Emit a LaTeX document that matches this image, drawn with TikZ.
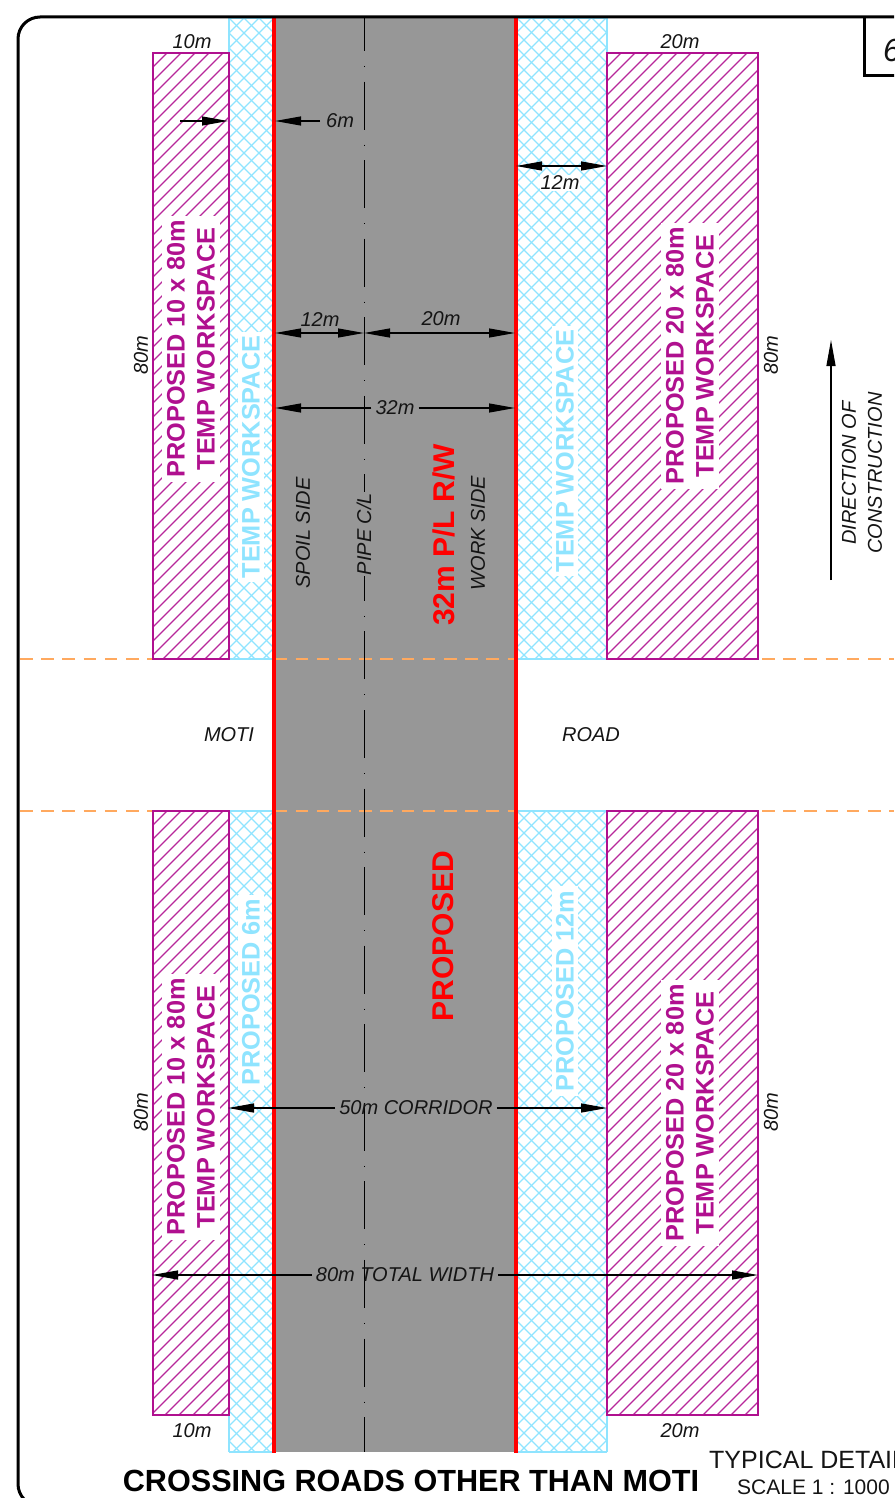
\documentclass[tikz,border=0pt]{standalone}
\usepackage{fontspec}
\setmainfont{Liberation Sans}
\usetikzlibrary{arrows.meta}
\definecolor{pur}{HTML}{B0108F}
\definecolor{cya}{HTML}{8FE4FF}
\definecolor{gry}{HTML}{979797}
\definecolor{org}{HTML}{FFA95F}
\tikzset{
  x=1pt,y=-1pt,
  purbox/.style={draw=pur,line width=2.4pt},
  purhatch/.style={pur!90,line width=1.25pt},
  cyahatch/.style={cya,line width=1.25pt},
  dim/.style={line width=1.2pt,draw=black},
  headend/.style={-{Triangle[length=26pt,width=9pt]}},
  headboth/.style={{Triangle[length=26pt,width=9pt]}-{Triangle[length=26pt,width=9pt]}},
  roadedge/.style={org,line width=1.6pt,dash pattern=on 12.5pt off 8.7pt},
  lab/.style={font=\fontsize{20}{22}\selectfont\itshape,inner sep=1pt,text=black!92},
  rlab/.style={lab,rotate=90},
  wlab/.style={lab,fill=white},
  planlab/.style={font=\fontsize{25.3}{30}\selectfont\bfseries,text=pur,fill=white,rotate=90,align=center,inner xsep=4pt,inner ysep=5pt},
  cylab/.style={font=\fontsize{25.3}{30}\selectfont\bfseries,text=cya,fill=white,rotate=90,inner xsep=4pt,inner ysep=4pt},
  redlab/.style={font=\fontsize{30}{32}\selectfont\bfseries,text=red,rotate=90,inner sep=0pt},
}
\newcommand{\hatchblock}[4]{%
  \begin{scope}
    \clip (#1,#2) rectangle (#3,#4);
    \fill[white] (#1,#2) rectangle (#3,#4);
    \pgfmathtruncatemacro{\hn}{#4-#2+#3-#1+40}
    \foreach \k in {0,14,...,\hn} {
      \draw[purhatch] (#1+\k+20,#2-20) -- (#1+\k-#4+#2-20,#4+20);
    }
  \end{scope}
  \draw[purbox] (#1,#2) rectangle (#3,#4);
}
\newcommand{\crossblock}[4]{%
  \begin{scope}
    \clip (#1,#2) rectangle (#3,#4);
    \pgfmathtruncatemacro{\hn}{#4-#2+#3-#1+40}
    \foreach \k in {0,15,...,\hn} {
      \draw[cyahatch] (#1+\k+20,#2-20) -- (#1+\k-#4+#2-20,#4+20);
      \draw[cyahatch] (#3-\k-20,#2-20) -- (#3-\k+#4-#2+20,#4+20);
    }
  \end{scope}
  \draw[cya,line width=1.8pt] (#1,#2) -- (#1,#4) (#3,#2) -- (#3,#4) (#1,#2) -- (#3,#2) (#1,#4) -- (#3,#4);
}
\begin{document}
\begin{tikzpicture}
\useasboundingbox (0,0) rectangle (894,1498);
\begin{scope}
\clip (0,0) rectangle (894,1498);
% grey corridor
\fill[gry] (274,18) rectangle (516,1452);
% dashed road edges (beneath the workspace blocks)
\coordinate (r1a) at (20,659); \coordinate (r1b) at (894,659);
\coordinate (r2a) at (20,811); \coordinate (r2b) at (894,811);
\draw[roadedge] (r1a) -- (r1b);
\draw[roadedge] (r2a) -- (r2b);
% workspace hatch
\crossblock{229}{18}{274}{659}
\crossblock{229}{811}{274}{1452}
\crossblock{516}{18}{607}{659}
\crossblock{516}{811}{607}{1452}
\hatchblock{153}{53}{229}{659}
\hatchblock{607}{53}{758}{659}
\hatchblock{153}{811}{229}{1415}
\hatchblock{607}{811}{758}{1415}
% centre line
\coordinate (cltop) at (364,18);
\coordinate (clbot) at (364,1452);
\draw[black,line width=0.9pt,dash pattern=on 48pt off 15pt on 1pt off 14.56pt,dash phase=15pt] (cltop) -- (clbot);
% red R/W lines
\coordinate (rla) at (274,18); \coordinate (rlb) at (274,1453);
\coordinate (rra) at (516,18); \coordinate (rrb) at (516,1453);
\draw[red,line width=3.6pt] (rla) -- (rlb);
\draw[red,line width=3.6pt] (rra) -- (rrb);
% frame
\draw[black,line width=3pt,rounded corners=22pt] (60,1506) -- (18,1506) -- (18,17) -- (920,17);
\coordinate (boxa) at (864,17); \coordinate (boxb) at (864,76); \coordinate (boxc) at (900,76);
\draw[black,line width=3pt] (boxa) -- (boxb) -- (boxc);
\node[font=\fontsize{32}{34}\selectfont\itshape,text=black!92,anchor=west,inner sep=0pt] (sheet) at (883,50) {6};
% plan labels
\node[planlab] (p1) at (191,349) {PROPOSED 10 x 80m\\TEMP WORKSPACE};
\node[planlab] (p2) at (690,356) {PROPOSED 20 x 80m\\TEMP WORKSPACE};
\node[planlab] (p3) at (191,1107) {PROPOSED 10 x 80m\\TEMP WORKSPACE};
\node[planlab] (p4) at (690,1113) {PROPOSED 20 x 80m\\TEMP WORKSPACE};
\node[cylab] (c1) at (251,457) {TEMP WORKSPACE};
\node[cylab] (c2) at (565,451) {TEMP WORKSPACE};
\node[cylab] (c3) at (251,992) {PROPOSED 6m};
\node[cylab] (c4) at (565,991) {PROPOSED 12m};
\node[redlab] (rw) at (444,535) {32m P/L R/W};
\node[redlab] (prop) at (443,936) {PROPOSED};
% side labels
\node[rlab] (spoil) at (303,533) {SPOIL SIDE};
\node[rlab,fill=gry] (pipe) at (364,534) {PIPE C/L};
\node[rlab] (work) at (478,533) {WORK SIDE};
\node[lab] (moti) at (229,735) {MOTI};
\node[lab] (road) at (591,735) {ROAD};
\node[rlab] (h1) at (141,355) {80m};
\node[rlab] (h2) at (771,355) {80m};
\node[rlab] (h3) at (141,1112) {80m};
\node[rlab] (h4) at (771,1112) {80m};
\node[lab] (w1) at (192,42) {10m};
\node[lab] (w2) at (680,42) {20m};
\node[lab] (w3) at (192,1431) {10m};
\node[lab] (w4) at (680,1431) {20m};
% direction
\coordinate (da) at (831,580); \coordinate (db) at (831,340);
\draw[dim,headend] (da) -- (db);
\node[rlab] (dir1) at (849,473) {DIRECTION OF};
\node[rlab] (dir2) at (875,473) {CONSTRUCTION};
% 6m
\coordinate (s1) at (180,121); \coordinate (s2) at (228,121);
\coordinate (s3) at (275,121);
\draw[dim,headend] (s1) -- (s2);
\node[lab,anchor=west] (six) at (325,121) {6m};
\draw[dim,headend] (six.west) ++(-5,0) -- (s3);
% 12m top right
\coordinate (t1) at (516,166); \coordinate (t2) at (607,166);
\draw[dim,headboth] (t1) -- (t2);
\node[wlab] (tw) at (560,183) {12m};
% 12m / 20m
\coordinate (u1) at (275,333); \coordinate (u2) at (364,333); \coordinate (u3) at (515,333);
\draw[dim,headboth] (u1) -- (u2);
\draw[dim,headboth] (u2) -- (u3);
\node[lab] (ut1) at (320,320) {12m};
\node[lab] (ut2) at (441,319) {20m};
% 32m
\coordinate (v1) at (275,408); \coordinate (v2) at (515,408);
\node[lab,inner sep=4pt] (vl) at (395,408) {32m};
\draw[dim,headend] (vl.west) -- (v1);
\draw[dim,headend] (vl.east) -- (v2);
% 50m
\coordinate (a1) at (228,1108); \coordinate (a2) at (607,1108);
\node[lab,inner sep=4pt] (al) at (416,1108) {50m CORRIDOR};
\draw[dim,headend] (al.west) -- (a1);
\draw[dim,headend] (al.east) -- (a2);
% 80m
\coordinate (b1) at (152,1275); \coordinate (b2) at (758,1275);
\node[lab,inner sep=4pt] (bl) at (405,1275) {80m TOTAL WIDTH};
\draw[dim,headend] (bl.west) -- (b1);
\draw[dim,headend] (bl.east) -- (b2);
% titles
\node[font=\fontsize{30.6}{32}\selectfont\bfseries,inner sep=0pt] (title) at (411,1481) {CROSSING ROADS OTHER THAN MOTI};
\node[font=\fontsize{25}{27}\selectfont,anchor=west,inner sep=0pt,text=black!92] (typ) at (709,1460) {TYPICAL DETAIL};
\node[font=\fontsize{21}{23}\selectfont,anchor=west,inner sep=0pt,text=black!92] (scale) at (737,1487) {SCALE 1 : 1000};
\end{scope}
\end{tikzpicture}
\end{document}
